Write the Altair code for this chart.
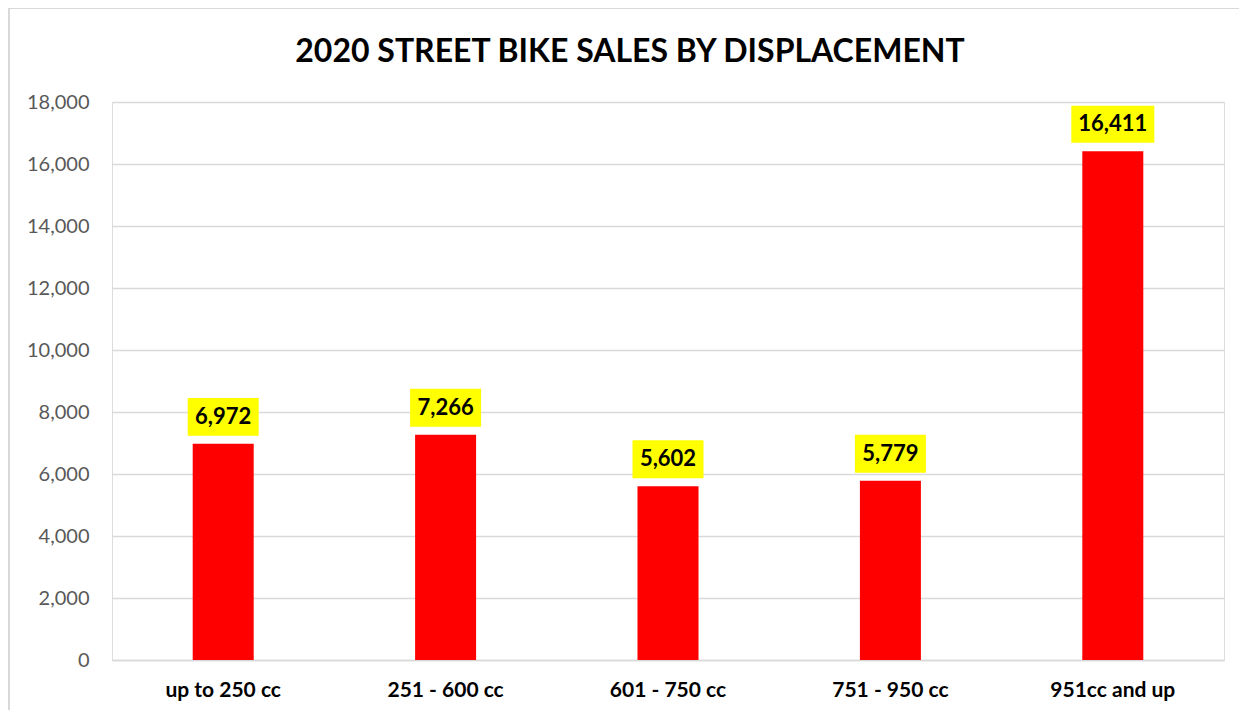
import altair as alt
import pandas as pd

categories = ["up to 250 cc", "251 - 600 cc", "601 - 750 cc", "751 - 950 cc", "951cc and up"]
sales = [6972, 7266, 5602, 5779, 16411]
y_ticks = [0, 2000, 4000, 6000, 8000, 10000, 12000, 14000, 16000, 18000]

df = pd.DataFrame({"cat": categories, "sales": sales})

W, H = 1112, 558
FONT = "Lato"

x = alt.X("cat:N", sort=categories, title=None,
          scale=alt.Scale(paddingInner=0, paddingOuter=0),
          axis=alt.Axis(labelAngle=0, labelFontSize=21, labelFontWeight="bold",
                        labelColor="#000000", labelFont=FONT, labelPadding=19,
                        ticks=False, domainColor="#d9d9d9", domainWidth=1.3))
y = alt.Y("sales:Q", title=None,
          scale=alt.Scale(domain=[0, 18000], nice=False),
          axis=alt.Axis(values=y_ticks, format=",.0f", labelFontSize=20, labelColor="#595959",
                        labelFont=FONT, labelPadding=23, ticks=False, domain=False,
                        gridColor="#d9d9d9", gridWidth=1.3))

base = alt.Chart(df)

bars = base.mark_bar(color="#ff0000", width=61).encode(x=x, y=y)

box5 = base.transform_filter("datum.sales < 10000").mark_point(
    shape="M-1,-0.535L1,-0.535L1,0.535L-1,0.535Z", size=71 * 71,
    filled=True, fill="#ffff00", opacity=1, strokeWidth=0, yOffset=-27
).encode(x=x, y=y)
box6 = base.transform_filter("datum.sales >= 10000").mark_point(
    shape="M-1,-0.446L1,-0.446L1,0.446L-1,0.446Z", size=83 * 83,
    filled=True, fill="#ffff00", opacity=1, strokeWidth=0, yOffset=-27
).encode(x=x, y=y)

labels = base.mark_text(fontSize=22, fontWeight="bold", font=FONT, color="#000000",
                        baseline="middle", dy=-27).encode(
    x=x, y=y, text=alt.Text("sales:Q", format=",.0f"))

frame_left = alt.Chart(df).mark_rule(color="#d9d9d9", strokeWidth=1.5).encode(
    x=alt.value(-103), y=alt.value(-94), y2=alt.value(H + 80))
frame_top = alt.Chart(df).mark_rule(color="#d9d9d9", strokeWidth=1.5).encode(
    x=alt.value(-103), x2=alt.value(W + 60), y=alt.value(-94))

chart = alt.layer(frame_left, frame_top, bars, box5, box6, labels).properties(
    width=W, height=H,
    padding={"left": 104, "top": 94, "right": 15, "bottom": 50},
    autosize=alt.AutoSizeParams(type="none"),
    title=alt.TitleParams("2020 STREET BIKE SALES BY DISPLACEMENT", fontSize=32,
                          fontWeight="bold", font=FONT, color="#000000",
                          anchor="middle", frame="group", baseline="alphabetic",
                          dx=-38, offset=-87),
).configure_view(stroke=None).configure(background="#ffffff")

chart.save("out.html", embed_options={"renderer": "svg", "actions": False})
